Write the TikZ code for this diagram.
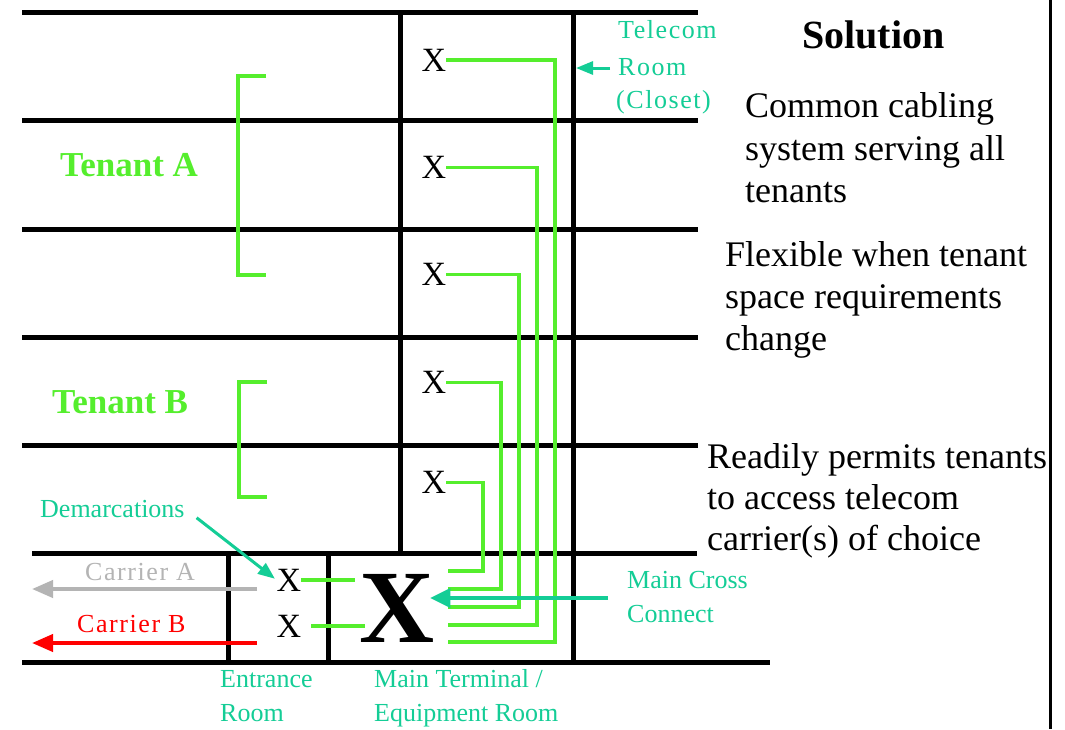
\documentclass[tikz,border=0pt]{standalone}
\usepackage{fontspec}
\setmainfont{Liberation Serif}
\newfontfamily\spacedserif[LetterSpace=6]{Liberation Serif}
\usetikzlibrary{arrows.meta}
\definecolor{cgreen}{RGB}{85,238,45}
\definecolor{cteal}{RGB}{20,205,150}
\definecolor{cgray}{RGB}{180,180,180}
\definecolor{cred}{RGB}{255,0,0}
\begin{document}
\begin{tikzpicture}[x=1pt,y=-1pt,
  wall/.style={line width=5pt, black},
  cable/.style={line width=3.5pt, cgreen},
  bracketline/.style={line width=3.5pt, cgreen},
  xmark/.style={inner sep=0pt, font=\fontsize{34}{34}\selectfont},
  lbl/.style={inner sep=0pt, anchor=base west, text=cteal, font=\fontsize{26}{26}\selectfont},
  spacedlbl/.style={inner sep=0pt, anchor=base west, text=cteal, font=\fontsize{26}{26}\spacedserif},
  body/.style={inner sep=0pt, anchor=base west, font=\fontsize{36}{36}\selectfont},
  tenant/.style={inner sep=0pt, anchor=base west, text=cgreen, font=\fontsize{35}{35}\selectfont\bfseries},
  pointer/.style={line width=3.5pt, cteal, -{Triangle[length=20pt,width=19pt]}},
  smallpointer/.style={line width=3pt, cteal, -{Triangle[length=17pt,width=13pt]}},
  carrier/.style={line width=4pt, -{Triangle[length=21pt,width=17pt]}},
]
\useasboundingbox (0,0) rectangle (1065,729);
\fill[white] (0,0) rectangle (1065,729);

% walls / floors
\draw[wall] (22,12) -- (698,12);
\draw[wall] (22,120) -- (698,120);
\draw[wall] (22,229) -- (698,229);
\draw[wall] (22,337) -- (698,337);
\draw[wall] (22,445) -- (698,445);
\draw[wall] (32,553) -- (697,553);
\draw[wall] (22,662) -- (770,662);
\draw[wall] (400,12) -- (400,553);
\draw[wall] (573,12) -- (573,662);
\draw[wall] (228,553) -- (228,662);
\draw[wall] (328,553) -- (328,662);
\draw[line width=3pt] (1050,0) -- (1050,729);

% tenant brackets
\draw[bracketline] (266,76) -- (238,76) -- (238,275) -- (266,275);
\draw[bracketline] (267,382) -- (239,382) -- (239,497) -- (267,497);
\node[tenant] (ta) at (60,176) {Tenant A};
\node[tenant] (tb) at (52,413) {Tenant B};

% telecom room outlets
\node[xmark] (x1) at (434,60) {X};
\node[xmark] (x2) at (434,167.5) {X};
\node[xmark] (x3) at (434,274.5) {X};
\node[xmark] (x4) at (434,382.5) {X};
\node[xmark] (x5) at (434,482.5) {X};

% main cross connect
\node[inner sep=0pt, font=\fontsize{104}{104}\selectfont\bfseries] (mx) at (397.5,608) {X};

% cables
\coordinate (k1) at (555,642); \coordinate (e1) at (448,642);
\coordinate (k2) at (537,625); \coordinate (e2) at (448,625);
\coordinate (k3) at (519,607); \coordinate (e3) at (448,607);
\coordinate (k4) at (501,589); \coordinate (e4) at (448,589);
\coordinate (k5) at (483,571); \coordinate (e5) at (448,571);
\draw[cable] (x1.east) -| (k1) -- (e1);
\draw[cable] (x2.east) -| (k2) -- (e2);
\draw[cable] (x3.east) -| (k3) -- (e3);
\draw[cable] (x4.east) -| (k4) -- (e4);
\draw[cable] (x5.east) -| (k5) -- (e5);

% demarcations
\node[xmark] (d1) at (289,580) {X};
\node[xmark] (d2) at (289,626) {X};
\coordinate (dl1) at (355,580);
\coordinate (dl2) at (365,626);
\draw[cable] (d1.east) -- (dl1);
\draw[cable, shorten <=10pt] (d2.east) -- (dl2);

% carriers
\coordinate (caS) at (257,589); \coordinate (caE) at (32,589);
\coordinate (cbS) at (257,643); \coordinate (cbE) at (32,643);
\draw[carrier, cgray] (caS) -- (caE);
\draw[carrier, cred] (cbS) -- (cbE);
\node[spacedlbl, text=cgray] (cal) at (85,580) {Carrier A};
\node[spacedlbl, text=cred] (cbl) at (77,632) {Carrier B};

% labels
\node[lbl] (dem) at (40,517) {Demarcations};
\draw[smallpointer, shorten <=15pt, shorten >=2pt] (dem.east) -- (d1.west);

\node[lbl] (er1) at (220,687) {Entrance};
\node[lbl] (er2) at (220,721) {Room};
\node[lbl] (mt1) at (374,687) {Main Terminal /};
\node[lbl] (mt2) at (374,721) {Equipment Room};

\node[lbl] (mc1) at (627,588) {Main Cross};
\node[lbl] (mc2) at (627,622) {Connect};
\coordinate (mcs) at (608,598);
\draw[pointer, shorten >=-5pt] (mcs) -- (mcs -| mx.east);

\node[spacedlbl] (tr1) at (618,38) {Telecom};
\node[spacedlbl] (tr2) at (618,75) {Room};
\node[spacedlbl] (tr3) at (616,108) {(Closet)};
\coordinate (tas) at (610,68);
\coordinate (tat) at (576,68);
\draw[smallpointer] (tas) -- (tat);

% solution text
\node[inner sep=0pt, anchor=base west, font=\fontsize{40}{40}\selectfont\bfseries] (sol) at (802,48) {Solution};
\node[body] (s1a) at (745,117) {Common cabling};
\node[body] (s1b) at (745,160) {system serving all};
\node[body] (s1c) at (745,202) {tenants};
\node[body] (s2a) at (725,266) {Flexible when tenant};
\node[body] (s2b) at (725,308) {space requirements};
\node[body] (s2c) at (725,350) {change};
\node[body] (s3a) at (707,468) {Readily permits tenants};
\node[body] (s3b) at (707,509) {to access telecom};
\node[body] (s3c) at (707,550) {carrier(s) of choice};
\end{tikzpicture}
\end{document}
